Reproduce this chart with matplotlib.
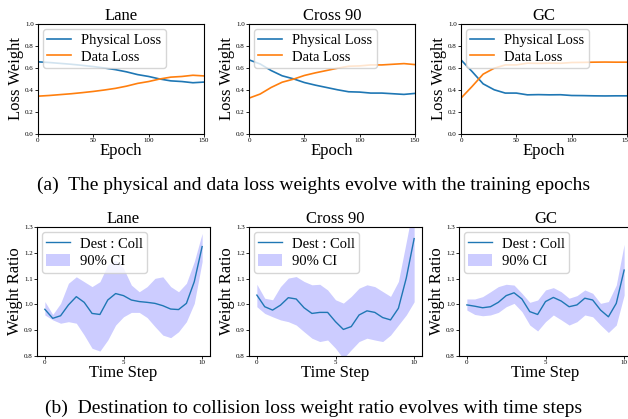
import matplotlib
matplotlib.use("Agg")
import matplotlib.pyplot as plt

plt.rcParams['font.family'] = ['Liberation Serif', 'DejaVu Serif']

# ---- (a) loss weights vs epoch ----
titles = ["Lane", "Cross 90", "GC"]
epochs = [0, 10, 20, 30, 40, 50, 60, 70, 80, 90, 100, 110, 120, 130, 140, 150]

lane_phys = [0.656, 0.650, 0.642, 0.634, 0.624, 0.613, 0.600, 0.585, 0.565, 0.540, 0.523, 0.500, 0.483, 0.477, 0.466, 0.472]
lane_data = [0.344, 0.350, 0.358, 0.366, 0.376, 0.387, 0.400, 0.415, 0.435, 0.460, 0.477, 0.500, 0.517, 0.523, 0.534, 0.528]

cross_phys = [0.674, 0.637, 0.577, 0.529, 0.502, 0.468, 0.444, 0.423, 0.402, 0.384, 0.381, 0.372, 0.372, 0.366, 0.360, 0.369]
cross_data = [0.326, 0.363, 0.423, 0.471, 0.498, 0.532, 0.556, 0.577, 0.598, 0.616, 0.619, 0.628, 0.628, 0.634, 0.640, 0.631]

gc_phys = [0.674, 0.568, 0.456, 0.402, 0.372, 0.372, 0.356, 0.358, 0.356, 0.357, 0.350, 0.349, 0.347, 0.346, 0.347, 0.347]
gc_data = [0.326, 0.432, 0.544, 0.598, 0.628, 0.628, 0.644, 0.642, 0.644, 0.643, 0.650, 0.651, 0.653, 0.654, 0.653, 0.653]

phys_all = [lane_phys, cross_phys, gc_phys]
data_all = [lane_data, cross_data, gc_data]

# ---- (b) destination : collision weight ratio vs time step ----
steps = [0, 0.5, 1, 1.5, 2, 2.5, 3, 3.5, 4, 4.5, 5, 5.5, 6, 6.5, 7, 7.5, 8, 8.5, 9, 9.5, 10]

lane_ratio = [0.981, 0.946, 0.956, 0.998, 1.030, 1.008, 0.965, 0.961, 1.017, 1.042, 1.034, 1.017, 1.011, 1.008, 1.004, 0.995, 0.982, 0.980, 1.004, 1.088, 1.224]
lane_hi = [1.011, 0.961, 1.004, 1.082, 1.107, 1.088, 1.069, 1.088, 1.153, 1.172, 1.140, 1.075, 1.049, 1.069, 1.101, 1.107, 1.069, 1.049, 1.082, 1.166, 1.275]
lane_lo = [0.959, 0.940, 0.927, 0.933, 0.927, 0.881, 0.830, 0.819, 0.862, 0.920, 0.952, 0.969, 0.969, 0.949, 0.914, 0.881, 0.871, 0.894, 0.933, 1.004, 1.166]

cross_ratio = [1.036, 0.991, 0.978, 0.997, 1.026, 1.021, 0.987, 0.965, 0.969, 0.969, 0.933, 0.903, 0.914, 0.959, 0.975, 0.969, 0.949, 0.940, 0.985, 1.102, 1.255]
cross_hi = [1.078, 1.024, 1.018, 1.069, 1.102, 1.108, 1.089, 1.076, 1.078, 1.056, 1.018, 1.005, 1.031, 1.063, 1.076, 1.069, 1.050, 1.031, 1.089, 1.243, 1.400]
cross_lo = [0.991, 0.965, 0.952, 0.940, 0.933, 0.920, 0.894, 0.869, 0.856, 0.862, 0.830, 0.790, 0.824, 0.856, 0.869, 0.862, 0.856, 0.881, 0.920, 0.959, 1.010]

gc_ratio = [0.998, 0.993, 0.987, 0.991, 1.008, 1.034, 1.045, 1.021, 0.972, 0.961, 1.011, 1.027, 1.013, 0.991, 0.998, 1.024, 1.017, 0.978, 0.952, 1.004, 1.133]
gc_hi = [1.021, 1.021, 1.030, 1.049, 1.069, 1.078, 1.075, 1.043, 1.008, 1.017, 1.056, 1.065, 1.049, 1.024, 1.034, 1.056, 1.043, 1.004, 1.011, 1.075, 1.233]
gc_lo = [0.978, 0.961, 0.956, 0.959, 0.969, 0.991, 1.004, 0.972, 0.920, 0.897, 0.933, 0.959, 0.940, 0.920, 0.933, 0.959, 0.952, 0.920, 0.891, 0.920, 1.036]

ratio_all = [lane_ratio, cross_ratio, gc_ratio]
hi_all = [lane_hi, cross_hi, gc_hi]
lo_all = [lane_lo, cross_lo, gc_lo]

W, H = 628, 419
fig = plt.figure(figsize=(W / 100, H / 100), dpi=100)

def px_axes(x0, y0, x1, y1):
    # pixel box (top-left origin) -> figure axes
    return fig.add_axes([x0 / W, 1 - y1 / H, (x1 - x0) / W, (y1 - y0) / H])

top_left = [38, 249, 461]
for i in range(3):
    ax = px_axes(top_left[i], 24, top_left[i] + 166, 134)
    ax.plot(epochs, phys_all[i], color='#1f77b4', lw=1.2, label='Physical Loss')
    ax.plot(epochs, data_all[i], color='#ff7f0e', lw=1.2, label='Data Loss')
    ax.set_xlim(0, 150)
    ax.set_ylim(0, 1)
    ax.set_xticks([0, 50, 100, 150])
    ax.set_yticks([0, 0.2, 0.4, 0.6, 0.8, 1.0])
    ax.tick_params(labelsize=5, length=2, width=0.6, pad=1)
    ax.set_title(titles[i], fontsize=12, pad=2)
    ax.set_xlabel('Epoch', fontsize=12, labelpad=0)
    ax.set_ylabel('Loss Weight', fontsize=12, labelpad=1)
    ax.legend(loc='upper left', fontsize=10.5, handlelength=1.6, borderpad=0.3,
              labelspacing=0.25, handletextpad=0.7, borderaxespad=0.35)

bot_left = [37, 249, 459]
for i in range(3):
    ax = px_axes(bot_left[i], 227, bot_left[i] + 173, 356)
    ax.fill_between(steps, lo_all[i], hi_all[i], color='blue', alpha=0.2, lw=0, label='90% CI')
    ax.plot(steps, ratio_all[i], color='#1f77b4', lw=1.0, label='Dest : Coll')
    ax.set_ylim(0.8, 1.3)
    ax.set_xlim(-0.5, 10.5)
    ax.set_xticks([0, 5, 10])
    ax.set_yticks([0.8, 0.9, 1.0, 1.1, 1.2, 1.3])
    ax.tick_params(labelsize=5, length=2, width=0.6, pad=1)
    ax.set_title(titles[i], fontsize=12, pad=2)
    ax.set_xlabel('Time Step', fontsize=12, labelpad=0)
    ax.set_ylabel('Weight Ratio', fontsize=12, labelpad=1)
    h, l = ax.get_legend_handles_labels()
    ax.legend(h[::-1], l[::-1], loc='upper left', fontsize=10.5, handlelength=1.6,
              handleheight=0.9, borderpad=0.3, labelspacing=0.25, handletextpad=0.7,
              borderaxespad=0.35)

fig.text(0.5, 1 - 185 / H, '(a)  The physical and data loss weights evolve with the training epochs',
         ha='center', va='center', fontsize=14)
fig.text(0.5, 1 - 408 / H, '(b)  Destination to collision loss weight ratio evolves with time steps',
         ha='center', va='center', fontsize=14)

fig.savefig('out.png', dpi=100)
